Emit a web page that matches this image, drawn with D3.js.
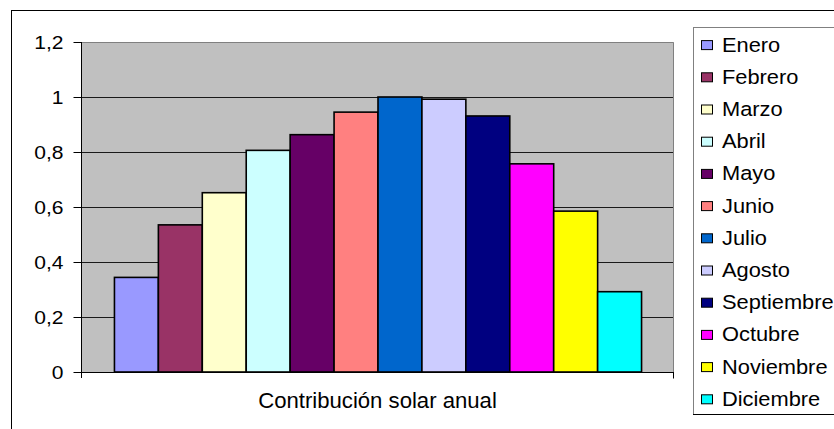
<!DOCTYPE html>
<html>
<head>
<meta charset="utf-8">
<script src="https://cdn.jsdelivr.net/npm/d3@7"></script>
<style>
  html, body { margin: 0; padding: 0; background: #fff; }
  svg { display: block; font-family: "Liberation Sans", Arial, sans-serif; }
</style>
</head>
<body>
<svg id="chart" width="834" height="429"></svg>
<script>
// Monthly solar contribution (fraction of demand covered)
const category = "Contribución solar anual";
const months = ["Enero", "Febrero", "Marzo", "Abril", "Mayo", "Junio",
                "Julio", "Agosto", "Septiembre", "Octubre", "Noviembre", "Diciembre"];
const values = [0.344, 0.535, 0.652, 0.806, 0.863, 0.945,
                1.0, 0.992, 0.931, 0.757, 0.585, 0.292];
const colors = ["#9999FF", "#993366", "#FFFFCC", "#CCFFFF", "#660066", "#FF8080",
                "#0066CC", "#CCCCFF", "#000080", "#FF00FF", "#FFFF00", "#00FFFF"];
const yTicks = [0, 0.2, 0.4, 0.6, 0.8, 1, 1.2];
const yTickLabels = ["0", "0,2", "0,4", "0,6", "0,8", "1", "1,2"];

const svg = d3.select("#chart");

// Chart area frame (runs off the right and bottom edges)
svg.append("rect")
  .attr("x", 11.5).attr("y", 10.5)
  .attr("width", 1000).attr("height", 1000)
  .attr("fill", "#fff").attr("stroke", "#000").attr("stroke-width", 1);

const plot = { left: 81, top: 42, right: 674, bottom: 372 };

const y = d3.scaleLinear().domain([0, 1.2]).range([plot.bottom, plot.top]);

// One category; Excel-style gap width of 150% of a bar on the outside
const gapWidth = 1.5;
const xCat = d3.scaleBand().domain([category]).range([plot.left, plot.right])
  .paddingInner(0).paddingOuter(gapWidth / 2 / months.length);
const xBar = d3.scaleBand().domain(months)
  .range([xCat(category), xCat(category) + xCat.bandwidth()]).padding(0);

// Plot background
svg.append("rect")
  .attr("x", plot.left).attr("y", plot.top)
  .attr("width", plot.right - plot.left).attr("height", plot.bottom - plot.top)
  .attr("fill", "#C0C0C0");

// Horizontal gridlines
svg.append("g")
  .selectAll("line")
  .data(yTicks.filter(d => d > 0 && d < 1.2))
  .join("line")
  .attr("x1", plot.left).attr("x2", plot.right)
  .attr("y1", d => Math.round(y(d)) + 0.5).attr("y2", d => Math.round(y(d)) + 0.5)
  .attr("stroke", "#1a1a1a").attr("stroke-width", 1);

// Plot border (top and right, grey)
svg.append("path")
  .attr("d", `M${plot.left},${plot.top + 0.5}H${plot.right - 0.5}V${plot.bottom}`)
  .attr("fill", "none").attr("stroke", "#808080").attr("stroke-width", 1);

// Bars
svg.append("g")
  .selectAll("rect")
  .data(months.map((m, i) => ({ m, v: values[i], c: colors[i] })))
  .join("rect")
  .attr("x", d => xBar(d.m) + 0.5)
  .attr("y", d => y(d.v))
  .attr("width", xBar.bandwidth())
  .attr("height", d => y(0) - y(d.v))
  .attr("fill", d => d.c)
  .attr("stroke", "#000").attr("stroke-width", 1.6);

// Y axis
const yAxis = d3.axisLeft(y)
  .tickValues(yTicks)
  .tickFormat((d, i) => yTickLabels[i])
  .tickSize(8).tickSizeOuter(0).tickPadding(10);
const gy = svg.append("g")
  .attr("transform", `translate(${plot.left + 0.5},0)`)
  .call(yAxis);
gy.select(".domain").attr("stroke", "#000").attr("d", `M0,${plot.top}V${plot.bottom + 6}`);
gy.selectAll(".tick line").attr("stroke", "#000");
const tickSx = 1.17;
gy.selectAll(".tick text")
  .attr("fill", "#000")
  .style("font-size", "18px")
  .attr("x", null).attr("dy", null)
  .attr("dominant-baseline", "central")
  .attr("transform", `translate(-18,0) scale(${tickSx},1)`);

// X axis
const xAxis = d3.axisBottom(xCat).tickSize(0).tickFormat("");
const gx = svg.append("g")
  .attr("transform", `translate(0,${plot.bottom + 0.5})`)
  .call(xAxis);
gx.select(".domain").attr("stroke", "#000")
  .attr("d", `M${plot.left},0H${plot.right}M${plot.right - 0.5},0V6`);

// Category label
svg.append("text")
  .attr("transform", `translate(${xCat(category) + xCat.bandwidth() / 2},408) scale(1.03,1)`)
  .attr("text-anchor", "middle")
  .style("font-size", "21.5px")
  .attr("fill", "#000")
  .text(category);

// Legend
const legend = { x: 693, top: 27, bottom: 414, rowY0: 44.6, rowStep: 32.2 };
svg.append("rect")
  .attr("x", legend.x + 0.5).attr("y", legend.top + 0.5)
  .attr("width", 300).attr("height", legend.bottom - legend.top)
  .attr("fill", "#fff").attr("stroke", "#808080");
svg.append("line")
  .attr("x1", legend.x).attr("x2", 834)
  .attr("y1", legend.bottom + 0.5).attr("y2", legend.bottom + 0.5)
  .attr("stroke", "#000");

const rows = svg.append("g").selectAll("g")
  .data(months.map((m, i) => ({ m, c: colors[i], i })))
  .join("g")
  .attr("transform", d => `translate(0,${legend.rowY0 + d.i * legend.rowStep})`);
rows.append("rect")
  .attr("x", 701.5).attr("y", -4)
  .attr("width", 11).attr("height", 9)
  .attr("fill", d => d.c).attr("stroke", "#000").attr("stroke-width", 1);
rows.append("text")
  .attr("transform", `translate(722,0) scale(1.12,1)`)
  .attr("dominant-baseline", "central")
  .style("font-size", "19.5px")
  .attr("fill", "#000")
  .text(d => d.m);
</script>
</body>
</html>
